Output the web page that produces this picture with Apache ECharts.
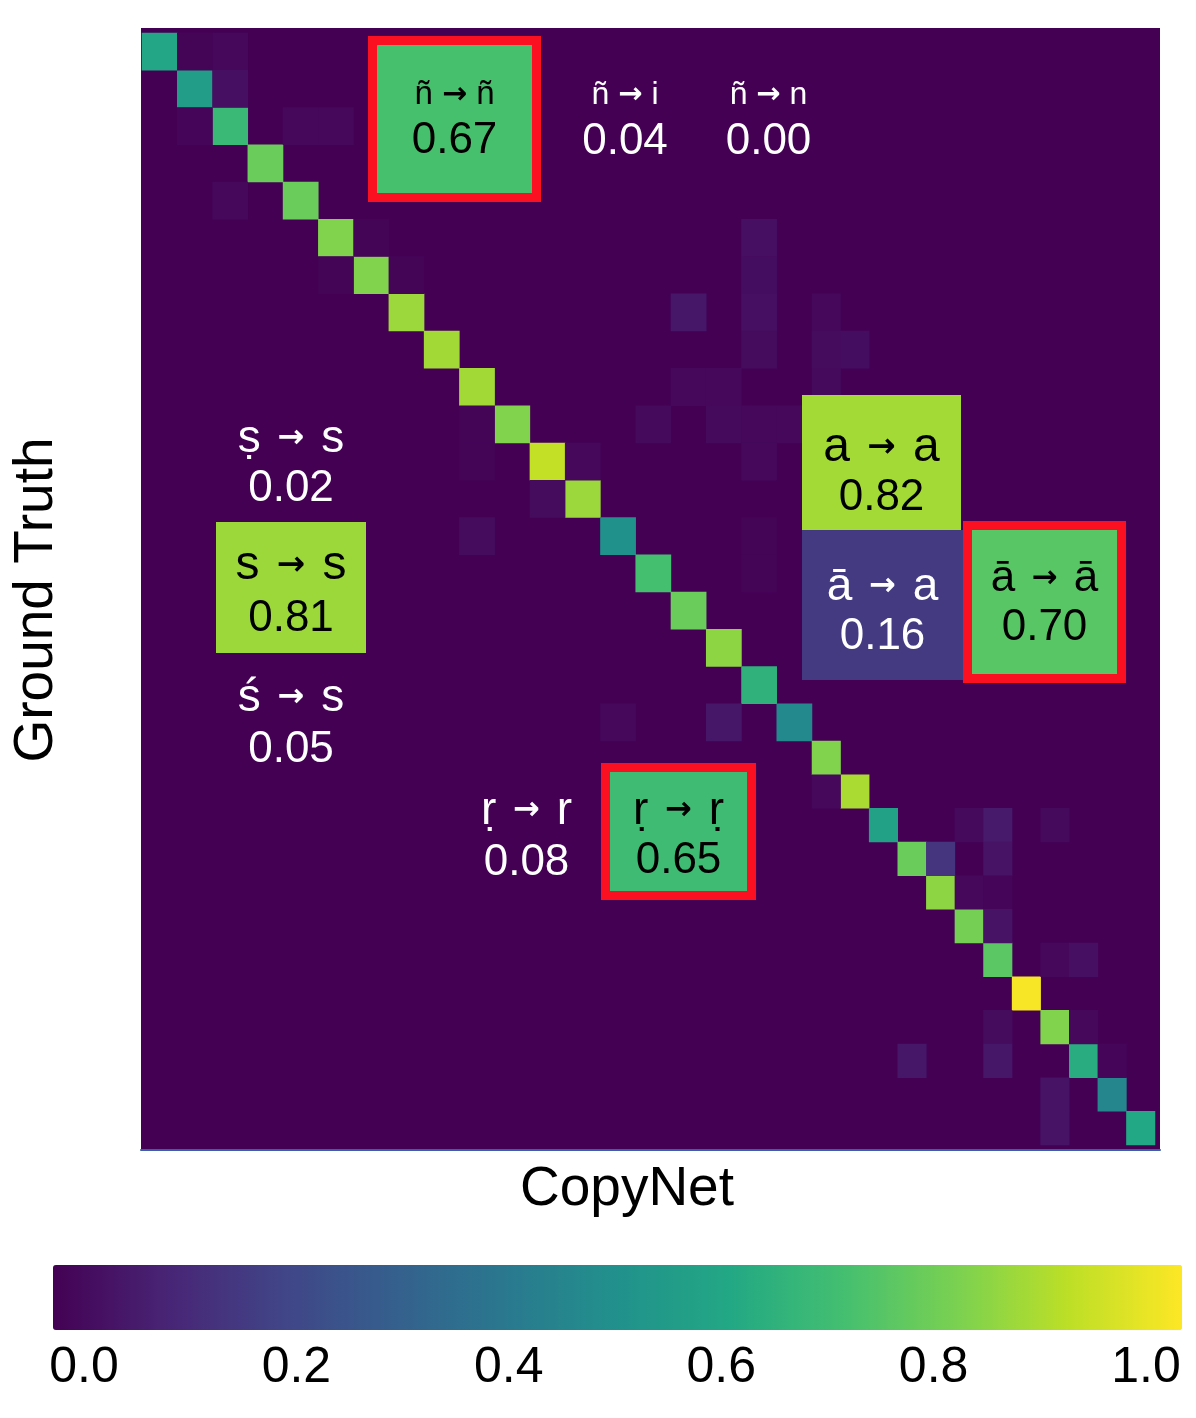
<!DOCTYPE html>
<html>
<head>
<meta charset="utf-8">
<script src="https://cdn.jsdelivr.net/npm/echarts@6/dist/echarts.min.js"></script>
<style>
html, body { margin: 0; padding: 0; background: #fff; }
#chart { width: 1196px; height: 1418px; }
</style>
</head>
<body>
<div id="chart"></div>
<script>
// copy rate on the diagonal (ground truth char i -> predicted char i)
var diagValues = [0.59, 0.55, 0.67, 0.77, 0.77, 0.81, 0.81, 0.85, 0.86, 0.86, 0.81, 0.91, 0.85,
  0.50, 0.70, 0.77, 0.83, 0.64, 0.47, 0.81, 0.87, 0.57, 0.77, 0.83, 0.79, 0.74, 0.99, 0.81,
  0.62, 0.46, 0.60];

// off diagonal confusions: [row (ground truth), col (CopyNet), rate]
var offDiag = [
  [0, 1, 0.01], [0, 2, 0.02], [1, 2, 0.04], [2, 1, 0.015], [2, 4, 0.02], [2, 5, 0.02],
  [4, 2, 0.02], [5, 6, 0.01], [6, 5, 0.01], [6, 7, 0.01],
  [5, 17, 0.04], [6, 17, 0.035], [7, 17, 0.04], [8, 17, 0.03], [7, 15, 0.06],
  [7, 19, 0.02], [8, 19, 0.03], [9, 19, 0.025], [8, 20, 0.035], [9, 15, 0.02], [9, 16, 0.02],
  [10, 16, 0.025], [10, 18, 0.02], [10, 14, 0.025], [10, 17, 0.02],
  [10, 9, 0.01], [11, 9, 0.01], [13, 9, 0.03], [12, 11, 0.03], [11, 12, 0.02],
  [11, 17, 0.02], [13, 17, 0.01], [14, 17, 0.01], [18, 13, 0.02], [18, 16, 0.06],
  [20, 19, 0.02], [21, 24, 0.025], [21, 25, 0.07], [21, 27, 0.025], [22, 23, 0.15],
  [22, 25, 0.05], [23, 24, 0.02], [23, 25, 0.015], [24, 25, 0.05], [25, 27, 0.02],
  [25, 28, 0.04], [27, 25, 0.03], [27, 28, 0.02], [28, 22, 0.06], [28, 25, 0.06],
  [29, 27, 0.05], [30, 27, 0.05], [28, 29, 0.015]
];

var barTicks = [0, 0.2, 0.4, 0.6, 0.8, 1.0];

// zoomed-in notes
var noteLabels = ['ñ→ñ', 'ñ→i', 'ñ→n', 'ṣ→s', 's→s', 'ś→s', 'ṛ→r', 'ṛ→ṛ', 'a→a', 'ā→a', 'ā→ā'];
var noteValues = [0.67, 0.04, 0.00, 0.02, 0.81, 0.05, 0.08, 0.65, 0.82, 0.16, 0.70];

var viridis = ['#440154', '#482475', '#414487', '#355f8d', '#2a788e', '#21918c',
  '#22a884', '#44bf70', '#7ad151', '#bddf26', '#fde725'];

// the zoomed boxes were coloured on a range that tops out a bit below 1
var noteColorMax = 0.95;

// layout of the note boxes: [x0, y0, x1, y1, labelY, valueY, labelSize, red frame]
var noteBoxes = [
  [377, 45, 532, 193, 95, 141, 33, true],
  [575, 45, 675, 193, 95, 142, 32, false],
  [705, 45, 832, 193, 95, 142, 32, false],
  [216, 400, 366, 522, 439, 489, 46, false],
  [216, 522, 366, 653, 566, 619, 48, false],
  [216, 653, 366, 780, 698, 750, 46, false],
  [452, 772, 601, 891, 811, 863, 46, false],
  [610, 772, 747, 891, 811, 861, 46, true],
  [802, 395, 961, 530, 448, 498, 48, false],
  [802, 530, 963, 680, 587, 637, 46, false],
  [972, 530, 1117, 674, 579, 628, 44, true]
];

var FONT = '"Liberation Sans", Arial, "DejaVu Sans", sans-serif';

function viridisColor(v) {
  var t = Math.max(0, Math.min(1, v)) * (viridis.length - 1);
  var i = Math.min(Math.floor(t), viridis.length - 2);
  var f = t - i;
  var a = viridis[i], b = viridis[i + 1];
  var out = '#';
  for (var k = 1; k < 7; k += 2) {
    var ca = parseInt(a.substr(k, 2), 16), cb = parseInt(b.substr(k, 2), 16);
    var c = Math.round(ca + (cb - ca) * f).toString(16);
    out += c.length < 2 ? '0' + c : c;
  }
  return out;
}

// all cells
var n = diagValues.length;
var cells = [];
diagValues.forEach(function (v, i) { cells.push([i, i, v]); });
offDiag.forEach(function (d) { cells.push(d); });

var cats = [];
for (var i = 0; i < n; i++) cats.push(String(i));

// the matrix is a collage: first 19 chars are drawn wider than the last 12
var split = 19;
var colEdges = [142, 812, 1155];
var rowEdges = [33, 741, 1145];
var ranges = [[0, split], [split, n]];

var grids = [], xAxes = [], yAxes = [], series = [];
for (var bj = 0; bj < 2; bj++) {
  for (var bi = 0; bi < 2; bi++) {
    var g = grids.length;
    var c0 = ranges[bi][0], c1 = ranges[bi][1], r0 = ranges[bj][0], r1 = ranges[bj][1];
    grids.push({
      left: colEdges[bi], top: rowEdges[bj],
      width: colEdges[bi + 1] - colEdges[bi], height: rowEdges[bj + 1] - rowEdges[bj]
    });
    xAxes.push({ type: 'category', gridIndex: g, data: cats.slice(c0, c1), show: false });
    yAxes.push({ type: 'category', gridIndex: g, data: cats.slice(r0, r1), inverse: true, show: false });
    var data = cells.filter(function (d) {
      return d[0] >= r0 && d[0] < r1 && d[1] >= c0 && d[1] < c1;
    }).map(function (d) { return [d[1] - c0, d[0] - r0, d[2]]; });
    series.push({
      type: 'heatmap', xAxisIndex: g, yAxisIndex: g, data: data,
      emphasis: { disabled: true }, silent: true
    });
  }
}

// frame (purple background + blue base line)
grids.push({ left: 141, top: 28, width: 1019, height: 1122, show: true,
  backgroundColor: '#440154', borderWidth: 0 });
xAxes.push({ type: 'value', gridIndex: 4, min: 0, max: 1,
  axisLine: { show: true, lineStyle: { color: '#3d5ea8', width: 2 } },
  axisTick: { show: false }, axisLabel: { show: false }, splitLine: { show: false } });
yAxes.push({ type: 'value', gridIndex: 4, show: false });

// colorbar tick axis
grids.push({ left: 84, top: 1330, width: 1062, height: 1 });
xAxes.push({ type: 'value', gridIndex: 5, min: 0, max: 1, interval: 0.2,
  axisLine: { show: false }, axisTick: { show: false }, splitLine: { show: false },
  axisLabel: { customValues: barTicks, margin: 12, fontSize: 50, color: '#000', fontFamily: FONT,
    formatter: function (v) { return v.toFixed(1); } } });
yAxes.push({ type: 'value', gridIndex: 5, show: false });

// note boxes
var graphics = [];
noteBoxes.forEach(function (b, k) {
  var v = noteValues[k];
  var txt = v >= 0.5 ? '#000' : '#fff';
  var cx = (b[0] + b[2]) / 2;
  if (v >= 0.1) {
    graphics.push({ type: 'rect', z: 10,
      shape: { x: b[0], y: b[1], width: b[2] - b[0], height: b[3] - b[1] },
      style: { fill: viridisColor(v / noteColorMax) } });
  }
  if (b[7]) {
    graphics.push({ type: 'rect', z: 11,
      shape: { x: b[0] - 4.5, y: b[1] - 4.5, width: b[2] - b[0] + 9, height: b[3] - b[1] + 9 },
      style: { fill: 'none', stroke: '#fa1020', lineWidth: 9 } });
  }
  var parts = noteLabels[k].split('→');
  var small = b[6] < 40;
  var gap = small ? 0 : Math.round(b[6] * 0.08);
  graphics.push({ type: 'text', z: 12, x: cx, y: b[4],
    style: { text: '{c|' + parts[0] + ' }{a|→}{c| ' + parts[1] + '}',
      align: 'center', verticalAlign: 'middle',
      rich: {
        c: { fontSize: b[6], fontFamily: FONT, fill: txt },
        a: { fontSize: Math.round(b[6] * (small ? 0.9 : 0.7)), fontWeight: 'bold', padding: [0, gap],
          fontFamily: '"DejaVu Sans", sans-serif', fill: txt }
      } } });
  graphics.push({ type: 'text', z: 12, x: cx, y: b[5],
    style: { text: v.toFixed(2), align: 'center', verticalAlign: 'middle',
      font: '44px ' + FONT, fill: txt } });
});

graphics.push({ type: 'text', x: 627, y: 1190,
  style: { text: 'CopyNet', align: 'center', verticalAlign: 'middle', font: '55px ' + FONT, fill: '#000' } });
graphics.push({ type: 'text', x: 37, y: 600, rotation: Math.PI / 2,
  style: { text: 'Ground Truth', align: 'center', verticalAlign: 'middle', font: '55px ' + FONT, fill: '#000' } });

var chart = echarts.init(document.getElementById('chart'));
chart.setOption({
  animation: false,
  backgroundColor: '#fff',
  grid: grids,
  xAxis: xAxes,
  yAxis: yAxes,
  visualMap: {
    type: 'continuous', min: 0, max: 1, seriesIndex: [0, 1, 2, 3],
    orient: 'horizontal', left: 53, top: 1265, padding: 0,
    itemWidth: 65, itemHeight: 1129, calculable: false, hoverLink: false,
    text: null, showLabel: false,
    inRange: { color: viridis }
  },
  series: series,
  graphic: graphics
});
</script>
</body>
</html>
